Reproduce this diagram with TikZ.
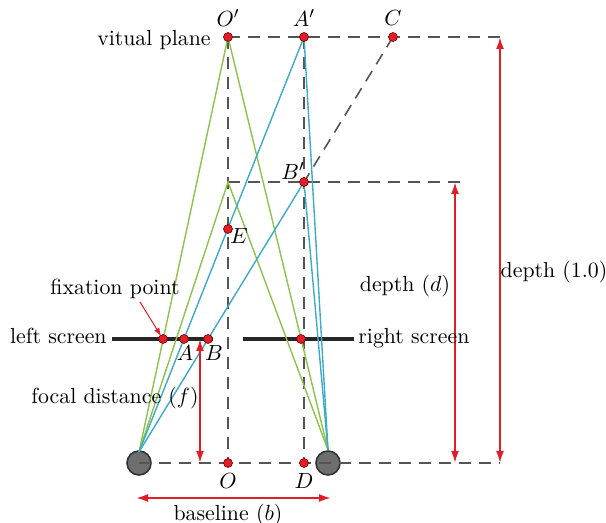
\documentclass[tikz,border=0pt]{standalone}
\usepackage{amsmath, amssymb}
\usepackage{xcolor}
\usepackage{tikz}
\usetikzlibrary{calc, arrows.meta, positioning}

\definecolor{raygreen}{RGB}{140,195,75}
\definecolor{rayblue}{RGB}{60,170,200}
\definecolor{markred}{RGB}{225,30,40}
\definecolor{guidegray}{RGB}{85,85,85}
\definecolor{eyegray}{RGB}{110,110,110}

\begin{document}
\begin{tikzpicture}[x=0.5pt, y={(0pt,-0.5pt)}, >={Latex[length=6pt,width=4pt]},
    font=\fontsize{10.9}{13}\selectfont,
    guide/.style={guidegray, line width=0.8pt, dash pattern=on 6pt off 4pt},
    greenray/.style={raygreen, line width=0.7pt},
    blueray/.style={rayblue, line width=0.7pt},
    screenline/.style={black!85, line width=2pt},
    measure/.style={markred, line width=1pt, <->},
    dot/.style={circle, fill=markred, draw=red!45!black, line width=0.3pt, inner sep=0pt, minimum size=4.5pt},
    eye/.style={circle, fill=eyegray, draw=black!80, line width=0.8pt, inner sep=0pt, minimum size=12pt}]

    \useasboundingbox (0,0) rectangle (606,523);

    % =================================================================
    % 1. POINTS
    % =================================================================
    \coordinate (LE) at (139,463);
    \coordinate (RE) at (328,463);
    \coordinate (LEtop) at (139,452);
    \coordinate (REtop) at (328,450);

    \coordinate (Op) at (228,37);
    \coordinate (Ap) at (304,37);
    \coordinate (C) at (393,37);
    \coordinate (Bp) at (304,182);
    \coordinate (G) at (228,182);
    \coordinate (E) at (228,229);
    \coordinate (O) at (228,463);
    \coordinate (D) at (304,463);

    % points on the screens
    \coordinate (F) at (163,339);
    \coordinate (A) at (184,339);
    \coordinate (B) at (208,339);
    \coordinate (R) at (301,339);

    % ends of guides and arrows
    \coordinate (planeEnd) at (500,37);
    \coordinate (depthEnd) at (460,182);
    \coordinate (baseEnd) at (500,463);

    % =================================================================
    % 2. EYES, SCREENS AND GUIDES
    % =================================================================
    \node[eye] (leftEye) at (LE) {};
    \node[eye] (rightEye) at (RE) {};

    \draw[screenline] (112,339) -- (213,339);
    \draw[screenline] (243,339) -- (354,339);

    \draw[guide] (Op) -- (planeEnd);
    \draw[guide] (G) -- (depthEnd);
    \draw[guide] (LE) -- (baseEnd);
    \draw[guide] (Op) -- (O);
    \draw[guide] (Ap) -- (D);
    \draw[guide] (C) -- (Bp);

    % =================================================================
    % 3. RAYS
    % =================================================================
    \draw[greenray] (LEtop) -- (Op) -- (REtop);
    \draw[greenray] (LEtop) -- (G) -- (REtop);

    \draw[blueray] (LEtop) -- (Ap) -- (REtop);
    \draw[blueray] (LEtop) -- (Bp) -- (REtop);

    \foreach \p in {Op, Ap, C, Bp, E, O, D, F, A, B, R}
        \node[dot] at (\p) {};

    % =================================================================
    % 4. MEASURES
    % =================================================================
    \draw[measure] (planeEnd) -- (baseEnd);
    \draw[measure] (455,182) -- (455,463);
    \draw[measure] (200,339) -- (200,463);
    \draw[measure] (136,498) -- (331,498);

    % =================================================================
    % 5. LABELS
    % =================================================================
    \node (lblOp) at (228,18) {$O'$};
    \node (lblAp) at (304,18) {$A'$};
    \node (lblC) at (393,18) {$C$};
    \node (lblBp) at (293,171) {$B'$};
    \node (lblE) at (239,236) {$E$};
    \node (lblA) at (185,353) {$A$};
    \node (lblB) at (214,353) {$B$};
    \node (lblO) at (228,481) {$O$};
    \node (lblD) at (304,481) {$D$};

    \node[left, inner sep=0pt] (plane) at (211,40) {vitual plane};
    \node (fixation) at (115,289) {fixation point};
    \node[left, inner sep=0pt] (leftScreen) at (107,336) {left screen};
    \node[right, inner sep=0pt] (rightScreen) at (358,338) {right screen};
    \node (focal) at (115,398) {focal distance ($f$)};
    \node (depthD) at (405,286) {depth ($d$)};
    \node (depthOne) at (554,272) {depth (1.0)};
    \node (baseline) at (228,515) {baseline ($b$)};

    \draw[markred, line width=0.5pt, -{Latex[length=4pt,width=3pt]}] (140,302) -- (161,336);

\end{tikzpicture}
\end{document}
